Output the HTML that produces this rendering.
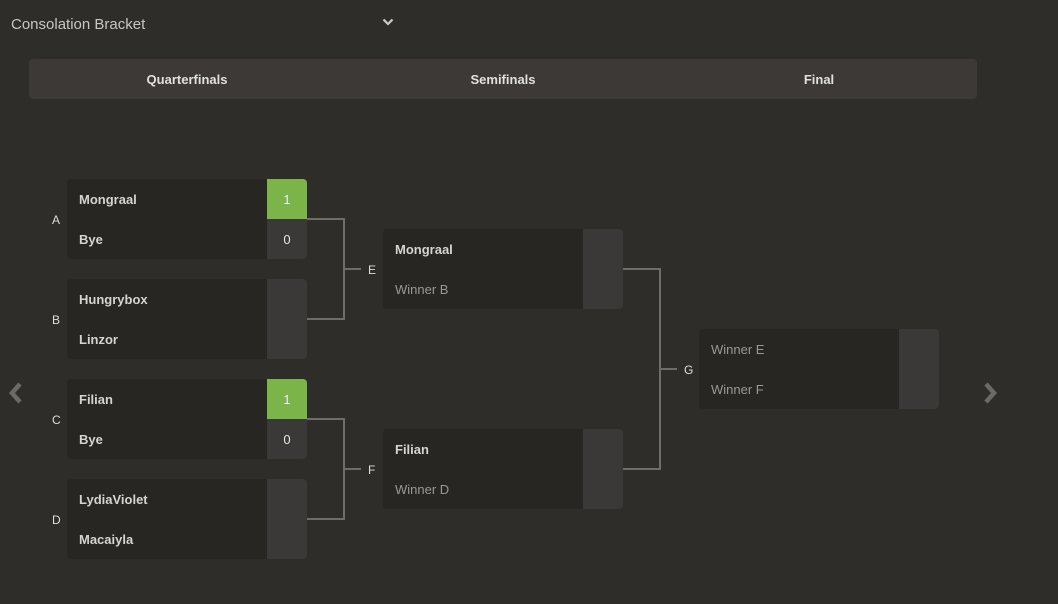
<!DOCTYPE html>
<html><head><style>
*{margin:0;padding:0;box-sizing:border-box}
body{width:1058px;height:604px;background:#2f2d2a;font-family:"Liberation Sans",sans-serif;position:relative;overflow:hidden}
.a{position:absolute}
.box{position:absolute;width:240px;height:80px;background:#272623;border-radius:4px;overflow:hidden}
.sc{position:absolute;right:0;top:0;width:40px;height:80px;background:#3b3937}
.n{position:absolute;left:12px;font-size:13px;color:#d6d4d0;font-weight:bold;line-height:14px}
.w{font-weight:normal;color:#9a9894}
.s{position:absolute;right:0;width:40px;height:40px;line-height:41px;text-align:center;font-size:13px;color:#e6e6e6}
.g{background:#7bb54a;color:#eef}
.l{position:absolute;font-size:12px;color:#ddd;line-height:12px}
.hd{position:absolute;font-size:13px;font-weight:bold;color:#e0e0e0;line-height:14px;transform:translateX(-50%)}
</style></head><body>
<div class="a" style="left:11px;top:16px;font-size:15px;color:#c8c6c2">Consolation Bracket</div>
<svg class="a" style="left:382px;top:17px" width="12" height="10"><path d="M1.5 2.5 L6 7 L10.5 2.5" stroke="#ccc" stroke-width="2.2" fill="none"/></svg>
<div class="a" style="left:29px;top:59px;width:948px;height:40px;background:#3c3936;border-radius:4px"></div>
<div class="hd" style="left:187px;top:73px">Quarterfinals</div>
<div class="hd" style="left:503px;top:73px">Semifinals</div>
<div class="hd" style="left:819px;top:73px">Final</div>

<svg class="a" style="left:0;top:0" width="1058" height="604">
<g stroke="#6e6d6a" stroke-width="2" fill="none">
<path d="M307 219 H344 V319 H307 M344 269 H361"/>
<path d="M307 419 H344 V519 H307 M344 469 H361"/>
<path d="M623 269 H660 V469 H623 M660 369 H677"/>
</g>
<path d="M20 384 L12 393 L20 402" stroke="#6b6a67" stroke-width="4.5" fill="none"/>
<path d="M986 384 L994 393 L986 402" stroke="#6b6a67" stroke-width="4.5" fill="none"/>
</svg>

<div class="l" style="left:52px;top:214px">A</div>
<div class="l" style="left:52px;top:314px">B</div>
<div class="l" style="left:52px;top:414px">C</div>
<div class="l" style="left:52px;top:514px">D</div>
<div class="l" style="left:368px;top:264px">E</div>
<div class="l" style="left:368px;top:464px">F</div>
<div class="l" style="left:684px;top:364px">G</div>

<div class="box" style="left:67px;top:179px"><div class="sc"></div><div class="n" style="top:14px">Mongraal</div><div class="n" style="top:54px">Bye</div><div class="s g" style="top:0">1</div><div class="s" style="top:40px">0</div></div>
<div class="box" style="left:67px;top:279px"><div class="sc"></div><div class="n" style="top:14px">Hungrybox</div><div class="n" style="top:54px">Linzor</div></div>
<div class="box" style="left:67px;top:379px"><div class="sc"></div><div class="n" style="top:14px">Filian</div><div class="n" style="top:54px">Bye</div><div class="s g" style="top:0">1</div><div class="s" style="top:40px">0</div></div>
<div class="box" style="left:67px;top:479px"><div class="sc"></div><div class="n" style="top:14px">LydiaViolet</div><div class="n" style="top:54px">Macaiyla</div></div>

<div class="box" style="left:383px;top:229px"><div class="sc"></div><div class="n" style="top:14px">Mongraal</div><div class="n w" style="top:54px">Winner B</div></div>
<div class="box" style="left:383px;top:429px"><div class="sc"></div><div class="n" style="top:14px">Filian</div><div class="n w" style="top:54px">Winner D</div></div>
<div class="box" style="left:699px;top:329px"><div class="sc"></div><div class="n w" style="top:14px">Winner E</div><div class="n w" style="top:54px">Winner F</div></div>
</body></html>
